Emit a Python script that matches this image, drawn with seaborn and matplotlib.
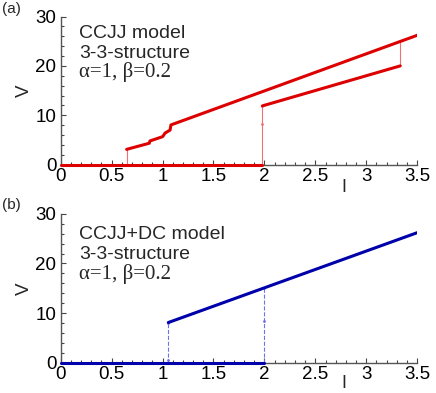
import matplotlib
matplotlib.use('Agg')
import matplotlib.pyplot as plt
import seaborn as sns
from matplotlib.ticker import MultipleLocator

# ---- data ----
# panel (a): CCJJ model
a_zero_i = [0.0, 1.98]
a_zero_v = [0.0, 0.0]
a_up_i = [0.648, 0.870, 0.877, 1.002, 1.025, 1.074, 1.083, 3.5]
a_up_v = [3.1, 4.34, 4.8, 5.68, 6.4, 7.0, 8.05, 26.2]
a_low_i = [1.98, 3.333]
a_low_v = [11.9, 20.0]
a_jump1_i = [0.648, 0.648]
a_jump1_v = [0.0, 3.1]
a_jump2_i = [1.98, 1.98, 1.98]
a_jump2_v = [0.0, 8.3, 11.9]
a_jump3_i = [3.333, 3.333]
a_jump3_v = [20.0, 24.95]

# panel (b): CCJJ+DC model
b_zero_i = [0.0, 2.0]
b_zero_v = [0.0, 0.0]
b_up_i = [1.057, 3.5]
b_up_v = [8.1, 26.2]
b_jump1_i = [1.057, 1.057, 1.057]
b_jump1_v = [0.0, 0.5, 8.1]
b_jump2_i = [2.0, 2.0, 2.0]
b_jump2_v = [0.0, 8.5, 15.1]

xticks = [0, 0.5, 1, 1.5, 2, 2.5, 3, 3.5]
xtick_labels = ['0', '0.5', '1', '1.5', '2', '2.5', '3', '3.5']
yticks = [0, 10, 20, 30]

sns.set_style('ticks')
plt.rcParams['font.family'] = ['Liberation Sans', 'DejaVu Sans']

fig = plt.figure(figsize=(4.36, 3.93), dpi=100)
ax_a = fig.add_axes([0.139, 0.581, 0.818, 0.377])
ax_b = fig.add_axes([0.139, 0.077, 0.818, 0.379])


def linha(ax, x, y, cor, lw, ls='-', marker=None, clip=True):
    sns.lineplot(ax=ax, x=x, y=y, sort=False, estimator=None, color=cor,
                 lw=lw, linestyle=ls, marker=marker, markersize=2,
                 markeredgewidth=0, clip_on=clip, zorder=3)


# panel (a)
red = '#dd0000'
red_thin = '#f07070'
linha(ax_a, a_jump1_i, a_jump1_v, red_thin, 0.8)
linha(ax_a, a_jump2_i, a_jump2_v, red_thin, 0.8, marker='o')
linha(ax_a, a_jump3_i, a_jump3_v, red_thin, 0.8)
linha(ax_a, a_zero_i, a_zero_v, red, 2.2, clip=False)
linha(ax_a, a_up_i, a_up_v, red, 2.2)
linha(ax_a, a_low_i, a_low_v, red, 2.2)

# panel (b)
blue = '#0000aa'
blue_thin = '#7070ee'
linha(ax_b, b_jump1_i, b_jump1_v, blue_thin, 0.8, ls='--', marker='o')
linha(ax_b, b_jump2_i, b_jump2_v, blue_thin, 0.8, ls='--', marker='o')
linha(ax_b, b_zero_i, b_zero_v, blue, 2.2, clip=False)
linha(ax_b, b_up_i, b_up_v, blue, 2.2)

textos = {
    ax_a: ('CCJJ model', (0.854, 0.723, 0.59), -0.10),
    ax_b: ('CCJJ+DC model', (0.830, 0.696, 0.56), -0.085),
}

for ax in (ax_a, ax_b):
    ax.set_xlim(0, 3.5)
    ax.set_ylim(0, 30)
    ax.set_xticks(xticks)
    ax.set_xticklabels(xtick_labels)
    ax.set_yticks(yticks)
    ax.xaxis.set_minor_locator(MultipleLocator(0.1))
    ax.yaxis.set_minor_locator(MultipleLocator(2))
    ax.tick_params(which='both', direction='in', colors='#444444',
                   labelcolor='black', labelsize=13.5, width=0.8)
    ax.tick_params(which='major', length=3.5)
    ax.tick_params(which='minor', length=2)
    ax.tick_params(axis='y', pad=3)
    ax.tick_params(axis='x', pad=2.5)
    for s in ('top', 'right'):
        ax.spines[s].set_visible(False)
    for s in ('left', 'bottom'):
        ax.spines[s].set_color('#555555')
        ax.spines[s].set_linewidth(1.0)

    titulo, ys, ylab = textos[ax]
    ax.set_xlabel('I', fontsize=13)
    ax.set_ylabel('V', fontsize=13.5)
    ax.xaxis.set_label_coords(0.795, ylab)
    ax.yaxis.set_label_coords(-0.078, 0.5)

    ax.text(0.051, ys[0], titulo, transform=ax.transAxes, fontsize=14,
            va='baseline')
    ax.text(0.051, ys[1], '3-3-structure', transform=ax.transAxes,
            fontsize=14, va='baseline')
    ax.text(0.051, ys[2], 'α=1, β=0.2', transform=ax.transAxes,
            fontsize=15, va='baseline', family=['Liberation Serif', 'DejaVu Serif'])

fig.text(0.004, 0.996, '(a)', fontsize=11, va='top', ha='left')
fig.text(0.004, 0.497, '(b)', fontsize=11, va='top', ha='left')

fig.savefig('out.png', dpi=100)
